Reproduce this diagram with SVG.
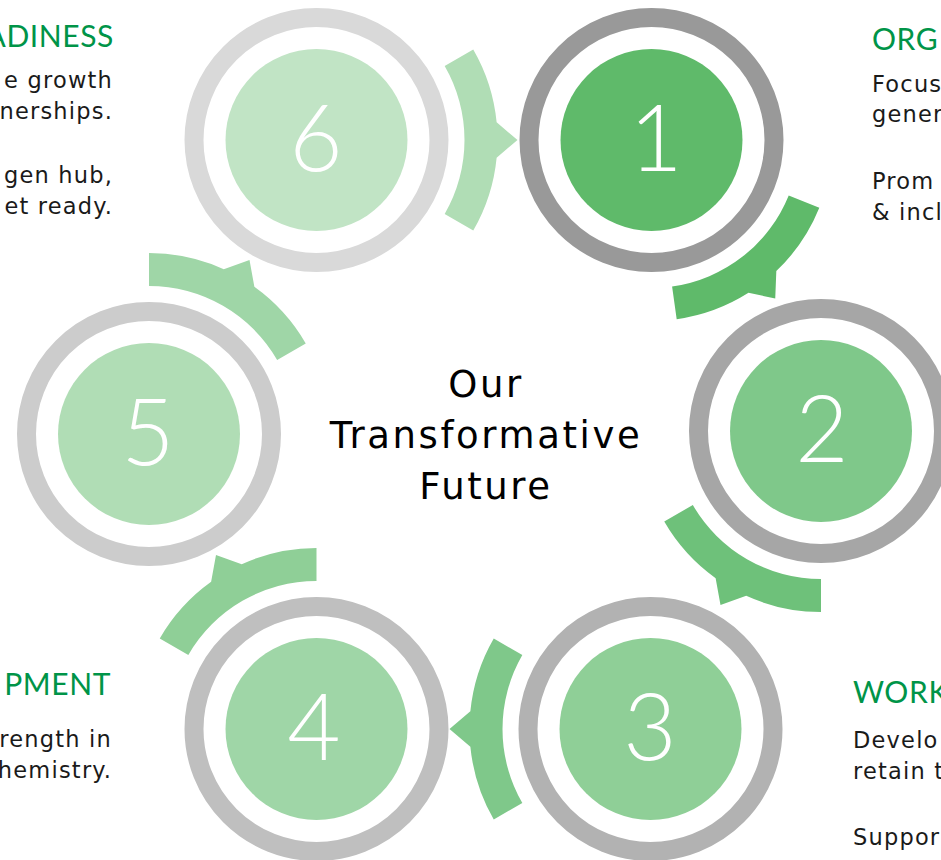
<svg xmlns="http://www.w3.org/2000/svg" width="941" height="860" viewBox="0 0 941 860">
  <style>
    .ring { fill: none; stroke-width: 19; }
    .num { font-family: Lato, "Open Sans", sans-serif; font-weight: 300; font-size: 92px; fill: #ffffff; text-anchor: middle; }
    .head { font-family: Lato, "Liberation Sans", sans-serif; font-size: 30px; letter-spacing: 0.6px; fill: #009448; }
    .body { font-family: "DejaVu Sans", "Liberation Sans", sans-serif; font-size: 22.5px; letter-spacing: 1.2px; fill: #1a1a1a; }
    .center { font-family: "DejaVu Sans", "Liberation Sans", sans-serif; font-size: 37px; letter-spacing: 2.6px; fill: #000000; text-anchor: middle; }
    .end { text-anchor: end; }
  </style>
  <defs>
    <!-- curved band around a step, with a pointer on its outer edge at angle 0 -->
    <path id="band" d="M156.75,-90.5 A181,181 0 0 1 180.14,-17.66 L201,0 L180.14,17.66 A181,181 0 0 1 156.75,90.5 L128.17,74 A148,148 0 0 0 128.17,-74 Z"/>
  </defs>
  <rect width="941" height="860" fill="#ffffff"/>

  <!-- connectors: each band wraps its step and points to the next one -->
  <g id="connectors">
    <use href="#band" fill="#5fba6a" transform="translate(651.5,140) rotate(52)"/>
    <use href="#band" fill="#6ec17a" transform="translate(821,431) rotate(120)"/>
    <use href="#band" fill="#7fc88a" transform="translate(650.5,729) rotate(180)"/>
    <use href="#band" fill="#8fcf97" transform="translate(316.5,729) rotate(-120)"/>
    <use href="#band" fill="#9fd6a7" transform="translate(149,434) rotate(-60)"/>
    <use href="#band" fill="#b0ddb5" transform="translate(316.5,140) rotate(0)"/>
  </g>

  <g id="step1">
    <circle class="ring" cx="651.5" cy="140" r="122.5" stroke="#999999"/>
    <circle cx="651.5" cy="140" r="91" fill="#5fba6a"/>
    <text class="num" x="656" y="171">1</text>
  </g>
  <g id="step2">
    <circle class="ring" cx="821" cy="431" r="122.5" stroke="#a6a6a6"/>
    <circle cx="821" cy="431" r="91" fill="#7fc88a"/>
    <text class="num" x="822" y="462">2</text>
  </g>
  <g id="step3">
    <circle class="ring" cx="650.5" cy="729" r="122.5" stroke="#b2b2b2"/>
    <circle cx="650.5" cy="729" r="91" fill="#8fcf97"/>
    <text class="num" x="650" y="760">3</text>
  </g>
  <g id="step4">
    <circle class="ring" cx="316.5" cy="729" r="122.5" stroke="#bfbfbf"/>
    <circle cx="316.5" cy="729" r="91" fill="#9fd6a7"/>
    <text class="num" x="314" y="760">4</text>
  </g>
  <g id="step5">
    <circle class="ring" cx="149" cy="434" r="122.5" stroke="#cccccc"/>
    <circle cx="149" cy="434" r="91" fill="#b0ddb5"/>
    <text class="num" x="148" y="465">5</text>
  </g>
  <g id="step6">
    <circle class="ring" cx="316.5" cy="140" r="122.5" stroke="#d9d9d9"/>
    <circle cx="316.5" cy="140" r="91" fill="#c1e4c5"/>
    <text class="num" x="316" y="171">6</text>
  </g>

  <g id="hub">
    <text class="center" x="486" y="397">Our</text>
    <text class="center" x="486" y="448">Transformative</text>
    <text class="center" x="486" y="499">Future</text>
  </g>

  <g id="text-step6">
    <text class="head end" x="114" y="47">ADINESS</text>
    <text class="body end" x="113" y="88">e growth</text>
    <text class="body end" x="113" y="118.5">nerships.</text>
    <text class="body end" x="113" y="183">gen hub,</text>
    <text class="body end" x="113" y="213.5">et ready.</text>
  </g>
  <g id="text-step1">
    <text class="head" x="872" y="49.5">ORG</text>
    <text class="body" x="872" y="91.5">Focus</text>
    <text class="body" x="872" y="122">gener</text>
    <text class="body" x="872" y="189">Prom</text>
    <text class="body" x="872" y="219.5">&amp; incl</text>
  </g>
  <g id="text-step4">
    <text class="head end" x="111" y="695">PMENT</text>
    <text class="body end" x="112" y="747">rength in</text>
    <text class="body end" x="112" y="777.5">hemistry.</text>
  </g>
  <g id="text-step3">
    <text class="head" x="853" y="703">WORK</text>
    <text class="body" x="853" y="748">Develo</text>
    <text class="body" x="853" y="778.5">retain t</text>
    <text class="body" x="853" y="845">Suppor</text>
  </g>
</svg>
